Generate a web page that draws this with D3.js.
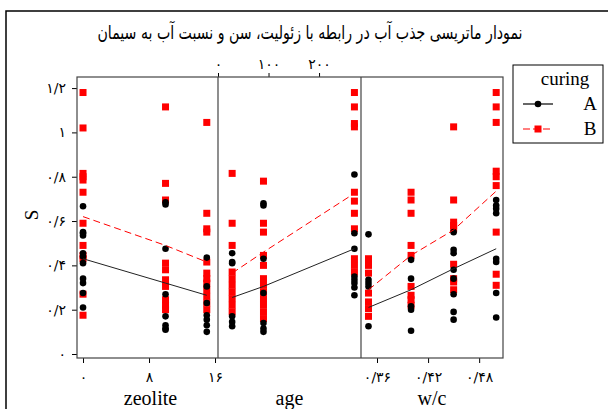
<!DOCTYPE html>
<html>
<head>
<meta charset="utf-8">
<script src="https://cdn.jsdelivr.net/npm/d3@7"></script>
<style>
body { margin: 0; background: #fff; }
svg text { font-family: "Liberation Serif", "DejaVu Serif", serif; fill: #000; }
.fa { font-family: "DejaVu Sans", "Noto Sans", sans-serif; }
</style>
</head>
<body>
<svg width="608" height="409"></svg>
<script>
// data
var title = "نمودار ماتریسی جذب آب در رابطه با زئولیت، سن و نسبت آب به سیمان";
var groups = ["A", "B"];

var zeoliteLevels = [0, 10, 15];
var zeoliteA = [
	[0.667, 0.55, 0.545, 0.535, 0.455, 0.44, 0.41, 0.34, 0.32, 0.275, 0.21],
	[0.685, 0.675, 0.475, 0.27, 0.17, 0.13, 0.115, 0.11],
	[0.435, 0.305, 0.23, 0.175, 0.155, 0.13, 0.10]
];
var zeoliteB = [
	[1.18, 1.02, 0.815, 0.80, 0.785, 0.73, 0.59, 0.49, 0.445, 0.43, 0.27, 0.175],
	[1.115, 0.77, 0.695, 0.41, 0.38, 0.335, 0.305, 0.245, 0.22, 0.20],
	[1.045, 0.635, 0.565, 0.55, 0.415, 0.365, 0.34, 0.32, 0.29, 0.26, 0.23, 0.20]
];
var zeoliteMeanA = [0.43, 0.32, 0.265];
var zeoliteMeanB = [0.62, 0.49, 0.415];

var ageLevels = [28, 90, 270];
var ageA = [
	[0.455, 0.415, 0.41, 0.17, 0.145, 0.125],
	[0.68, 0.67, 0.43, 0.275, 0.14, 0.115, 0.10],
	[0.81, 0.545, 0.475, 0.35, 0.335, 0.32, 0.30, 0.265]
];
var ageB = [
	[0.815, 0.59, 0.49, 0.37, 0.34, 0.31, 0.28, 0.25, 0.22, 0.19],
	[0.78, 0.59, 0.55, 0.445, 0.40, 0.34, 0.31, 0.28, 0.25, 0.22, 0.19, 0.16],
	[1.18, 1.115, 1.04, 1.025, 0.73, 0.69, 0.635, 0.565, 0.43, 0.40, 0.37]
];
var ageMeanA = [0.255, 0.305, 0.475];
var ageMeanB = [0.365, 0.46, 0.725];

var wcLevels = [0.35, 0.40, 0.45, 0.50];
var wcA = [
	[0.54, 0.335, 0.32, 0.305, 0.125],
	[0.425, 0.34, 0.215, 0.20, 0.105],
	[0.55, 0.47, 0.455, 0.38, 0.34, 0.27, 0.19, 0.155],
	[0.695, 0.67, 0.655, 0.635, 0.43, 0.415, 0.275, 0.165]
];
var wcB = [
	[0.43, 0.40, 0.365, 0.275, 0.235, 0.205, 0.17],
	[0.73, 0.695, 0.635, 0.49, 0.445, 0.305, 0.265, 0.245, 0.22],
	[1.025, 0.695, 0.595, 0.58, 0.565, 0.405, 0.34, 0.325, 0.29],
	[1.18, 1.115, 1.045, 0.825, 0.80, 0.76, 0.55, 0.36, 0.31]
];
var wcMeanA = [0.21, 0.29, 0.385, 0.475];
var wcMeanB = [0.29, 0.445, 0.56, 0.735];

var yTicks = [0, 0.2, 0.4, 0.6, 0.8, 1, 1.2];
var zeoliteTicks = [0, 8, 16];
var ageTicks = [0, 100, 200];
var wcTicks = [0.36, 0.42, 0.48];

var fa = function (v) {
	return String(+v.toFixed(2)).replace(".", "/")
		.replace(/[0-9]/g, function (c) { return "۰۱۲۳۴۵۶۷۸۹"[+c]; });
};

var svg = d3.select("svg");
var plotTop = 77, plotBottom = 358, plotLeft = 77, plotRight = 503;
var div1 = 218, div2 = 361;

var y = d3.scaleLinear().domain([-0.018, 1.25]).range([plotBottom, plotTop]);

var panels = [
	{ name: "zeolite", levels: zeoliteLevels, A: zeoliteA, B: zeoliteB, mA: zeoliteMeanA, mB: zeoliteMeanB,
	  x: d3.scaleLinear().domain([-0.73, 16.36]).range([plotLeft, div1]), ticks: zeoliteTicks, side: "bottom" },
	{ name: "age", levels: ageLevels, A: ageA, B: ageB, mA: ageMeanA, mB: ageMeanB,
	  x: d3.scaleLinear().domain([0, 283]).range([div1, div2]), ticks: ageTicks, side: "top" },
	{ name: "w/c", levels: wcLevels, A: wcA, B: wcB, mA: wcMeanA, mB: wcMeanB,
	  x: d3.scaleLinear().domain([0.3412, 0.508]).range([div2, plotRight]), ticks: wcTicks, side: "bottom" }
];

// outer frame
svg.append("path").attr("d", "M6,409V11H608").attr("fill", "none").attr("stroke", "#000").attr("stroke-width", 1.5);

svg.append("text").attr("class", "fa")
	.attr("x", 310).attr("y", 39)
	.attr("text-anchor", "middle")
	.attr("textLength", 425).attr("lengthAdjust", "spacingAndGlyphs")
	.style("font-size", "19px")
	.text(title);

// y axis
var yAxis = svg.append("g")
	.attr("transform", "translate(" + plotLeft + ",0)")
	.call(d3.axisLeft(y).tickValues(yTicks).tickSize(5).tickPadding(6).tickFormat(fa));
yAxis.select(".domain").remove();
yAxis.selectAll("text").attr("class", "fa").style("font-size", "14px");

svg.append("text")
	.attr("transform", "translate(38,215) rotate(-90)")
	.attr("text-anchor", "middle")
	.style("font-size", "19px")
	.text("S");

panels.forEach(function (p) {
	var r = p.x.range();
	var ax;
	if (p.side === "bottom") {
		ax = svg.append("g").attr("transform", "translate(0," + plotBottom + ")")
			.call(d3.axisBottom(p.x).tickValues(p.ticks).tickSize(5).tickPadding(9).tickFormat(fa));
	} else {
		ax = svg.append("g").attr("transform", "translate(0," + plotTop + ")")
			.call(d3.axisTop(p.x).tickValues(p.ticks).tickSize(4).tickPadding(4).tickFormat(fa));
	}
	ax.select(".domain").remove();
	ax.selectAll("text").attr("class", "fa").style("font-size", "14px");

	svg.append("text")
		.attr("x", (r[0] + r[1]) / 2 + (p.name === "zeolite" ? 3 : 0))
		.attr("y", 405)
		.attr("text-anchor", "middle")
		.style("font-family", "'Liberation Serif', serif")
		.style("font-size", "20px")
		.text(p.name);

	// B first (red squares), then A (black dots)
	p.levels.forEach(function (lv, i) {
		svg.append("g").selectAll("rect")
			.data(p.B[i]).join("rect")
			.attr("x", p.x(lv) - 3.5).attr("y", function (d) { return y(d) - 3.5; })
			.attr("width", 7).attr("height", 7)
			.attr("fill", "#ff0000");
	});
	p.levels.forEach(function (lv, i) {
		svg.append("g").selectAll("circle")
			.data(p.A[i]).join("circle")
			.attr("cx", p.x(lv)).attr("cy", function (d) { return y(d); })
			.attr("r", 3.3)
			.attr("fill", "#000");
	});

	var line = d3.line()
		.x(function (d, i) { return p.x(p.levels[i]); })
		.y(function (d) { return y(d); });

	svg.append("path").datum(p.mA)
		.attr("fill", "none").attr("stroke", "#222").attr("stroke-width", 1)
		.attr("d", line);
	svg.append("path").datum(p.mB)
		.attr("fill", "none").attr("stroke", "#ff0000").attr("stroke-width", 1)
		.attr("stroke-dasharray", "7,4")
		.attr("d", line);
});

// plot border and panel dividers
svg.append("rect")
	.attr("x", plotLeft).attr("y", plotTop).attr("width", plotRight - plotLeft).attr("height", plotBottom - plotTop)
	.attr("fill", "none").attr("stroke", "#444").attr("stroke-width", 1.2);
[div1, div2].forEach(function (d) {
	svg.append("line").attr("x1", d).attr("x2", d).attr("y1", plotTop).attr("y2", plotBottom)
		.attr("stroke", "#444").attr("stroke-width", 1.2);
});

// legend
var lg = svg.append("g");
lg.append("rect").attr("x", 513).attr("y", 65).attr("width", 90).attr("height", 78)
	.attr("fill", "#fff").attr("stroke", "#000").attr("stroke-width", 1);
lg.append("text").attr("x", 565).attr("y", 85).attr("text-anchor", "middle")
	.style("font-size", "19px").text("curing");
groups.forEach(function (g, i) {
	var ly = 104 + i * 25;
	var col = g === "A" ? "#000" : "#ff0000";
	lg.append("line").attr("x1", 523).attr("x2", 553).attr("y1", ly).attr("y2", ly)
		.attr("stroke", col).attr("stroke-width", 1.2)
		.attr("stroke-dasharray", g === "A" ? null : "7,3");
	if (g === "A") {
		lg.append("circle").attr("cx", 538).attr("cy", ly).attr("r", 3.3).attr("fill", col);
	} else {
		lg.append("rect").attr("x", 534.5).attr("y", ly - 3.5).attr("width", 7).attr("height", 7).attr("fill", col);
	}
	lg.append("text").attr("x", 590).attr("y", ly + 6).attr("text-anchor", "middle")
		.style("font-size", "19px").text(g);
});
</script>
</body>
</html>
